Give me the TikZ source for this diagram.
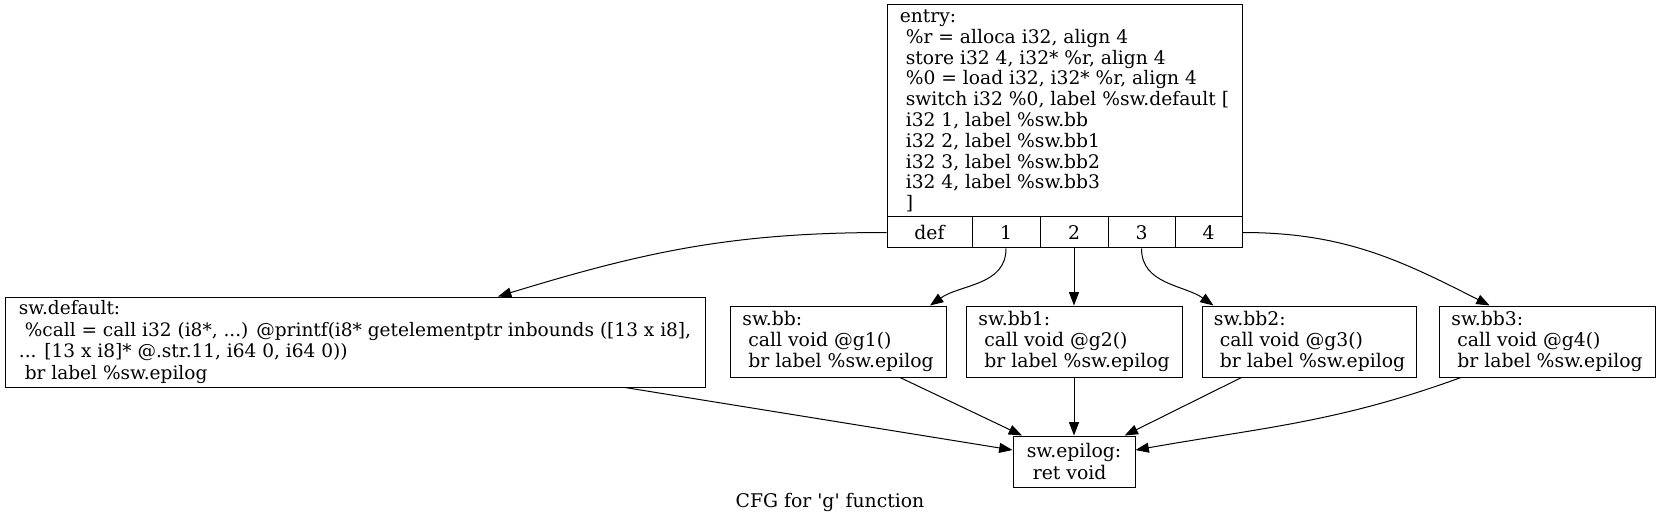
\documentclass[tikz,border=0pt]{standalone}
\usepackage{fontspec}
\setmainfont{DejaVu Serif}
\usepackage{tikz}
\usetikzlibrary{arrows.meta}

\newcommand{\indsp}{\hspace*{0.32em}}
\tikzset{
  cfgfont/.style={font=\fontsize{14.1}{16}\selectfont},
  block/.style={draw, line width=0.75pt, cfgfont, align=left, inner sep=0pt},
  field/.style={draw, line width=0.75pt, cfgfont, inner sep=0pt, minimum height=23.25pt},
  cfgedge/.style={line width=0.75pt, -{Triangle[length=10pt, width=7.5pt]}},
}

\begin{document}
\begin{tikzpicture}[x=0.75pt, y=-0.75pt]

\path[use as bounding box, fill=white] (0,0) rectangle (1661,524);

\node[block, font=\fontsize{14}{15.6}\selectfont, minimum width=266.25pt, minimum height=159pt] (entry) at (1064.5,111)
  {entry:\\
   \indsp\%r = alloca i32, align 4\\
   \indsp store i32 4, i32* \%r, align 4\\
   \indsp\%0 = load i32, i32* \%r, align 4\\
   \indsp switch i32 \%0, label \%sw.default [\\
   \indsp i32 1, label \%sw.bb\\
   \indsp i32 2, label \%sw.bb1\\
   \indsp i32 3, label \%sw.bb2\\
   \indsp i32 4, label \%sw.bb3\\
   \indsp ]};

\node[field, minimum width=63.75pt] (fdef) at (929.5,232.5) {def};
\node[field, minimum width=51pt]    (f1)   at (1006,232.5)  {1};
\node[field, minimum width=51pt]    (f2)   at (1074,232.5)  {2};
\node[field, minimum width=50.25pt] (f3)   at (1141.5,232.5) {3};
\node[field, minimum width=50.25pt] (f4)   at (1208.5,232.5) {4};

\node[block, font=\fontsize{13.9}{16.2}\selectfont, minimum width=525pt, minimum height=67.5pt] (swdefault) at (355,342)
  {sw.default:\\
   \indsp\%call = call i32 (i8*, ...) @printf(i8* getelementptr inbounds ([13 x i8],\\
   ... [13 x i8]* @.str.11, i64 0, i64 0))\\
   \indsp br label \%sw.epilog};

\node[block, minimum width=162pt, minimum height=53.25pt] (swbb) at (838,341.5)
  {sw.bb:\\ \indsp call void @g1()\\ \indsp br label \%sw.epilog};
\node[block, minimum width=162pt, minimum height=53.25pt] (swbb1) at (1074,341.5)
  {sw.bb1:\\ \indsp call void @g2()\\ \indsp br label \%sw.epilog};
\node[block, minimum width=161pt, minimum height=53.25pt] (swbb2) at (1309.5,341.5)
  {sw.bb2:\\ \indsp call void @g3()\\ \indsp br label \%sw.epilog};
\node[block, minimum width=162pt, minimum height=53.25pt] (swbb3) at (1547,341.5)
  {sw.bb3:\\ \indsp call void @g4()\\ \indsp br label \%sw.epilog};

\node[block, minimum width=91.5pt, minimum height=38.25pt] (swepilog) at (1074,461.5)
  {sw.epilog:\\ \indsp ret void};

\node[cfgfont] (caption) at (830,502) {CFG for \textquotesingle g\textquotesingle\ function};

\draw[cfgedge] (fdef.west) to[out=180, in=17] ([xshift=107.25pt]swdefault.north);
\draw[cfgedge] (f1.south) to[out=-90, in=35] ([xshift=69pt]swbb.north);
\draw[cfgedge] (f2.south) -- (swbb1.north);
\draw[cfgedge] (f3.south) to[out=-90, in=145] ([xshift=-72pt]swbb2.north);
\draw[cfgedge] (f4.east) to[out=0, in=153] ([xshift=-43pt]swbb3.north);

\draw[cfgedge] ([xshift=202.5pt]swdefault.south) -- ([yshift=8.6pt]swepilog.west);
\draw[cfgedge] ([xshift=46.5pt]swbb.south) -- ([xshift=-39pt]swepilog.north);
\draw[cfgedge] (swbb1.south) -- (swepilog.north);
\draw[cfgedge] ([xshift=-51pt]swbb2.south) -- ([xshift=38pt]swepilog.north);
\draw[cfgedge] ([xshift=-64.5pt]swbb3.south) to[out=-160, in=10] ([yshift=8.6pt]swepilog.east);

\end{tikzpicture}
\end{document}
